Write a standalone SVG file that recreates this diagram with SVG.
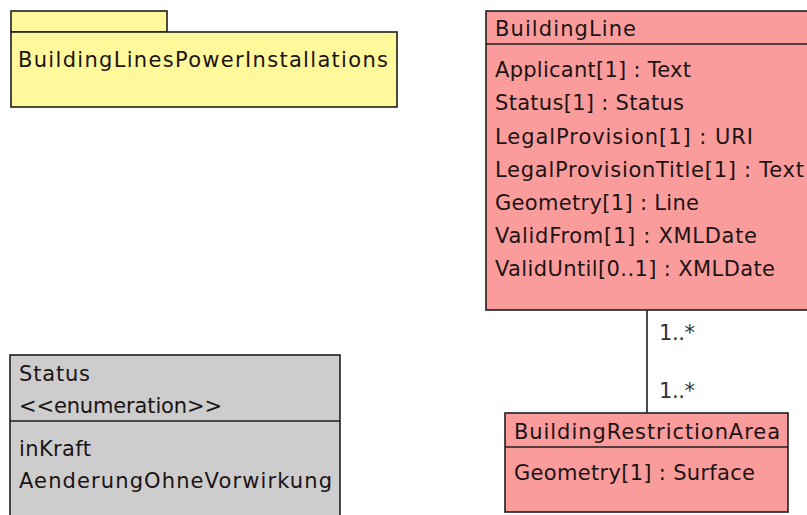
<svg xmlns="http://www.w3.org/2000/svg" width="807" height="515" viewBox="0 0 807 515">
  <style>
    .box { stroke: #1e1e1e; stroke-width: 1.6; }
    .pkg { fill: #fff99c; }
    .cls { fill: #fb9c9c; }
    .enum { fill: #cdcdcd; }
    .sep { stroke: #1e1e1e; stroke-width: 1.6; fill: none; }
    text { font-family: "DejaVu Sans", "Liberation Sans", sans-serif; font-size: 21px; fill: #1c1414; }
    .mult { fill: #333333; }
    .edge { stroke: #1e1e1e; stroke-width: 1.6; fill: none; }
  </style>
  <rect width="807" height="515" fill="#ffffff"/>

  <!-- package -->
  <g id="BuildingLinesPowerInstallations">
    <rect class="box pkg" x="11" y="11" width="156" height="21"/>
    <rect class="box pkg" x="11" y="32" width="386" height="75"/>
    <text x="18" y="67" textLength="370">BuildingLinesPowerInstallations</text>
  </g>

  <!-- class BuildingLine -->
  <g id="BuildingLine">
    <rect class="box cls" x="486" y="11" width="340" height="299"/>
    <line class="sep" x1="486" y1="44" x2="826" y2="44"/>
    <text x="495" y="36" textLength="141">BuildingLine</text>
    <text x="495" y="77" textLength="196">Applicant[1] : Text</text>
    <text x="495" y="110" textLength="189">Status[1] : Status</text>
    <text x="495" y="144" textLength="258">LegalProvision[1] : URI</text>
    <text x="495" y="177" textLength="309">LegalProvisionTitle[1] : Text</text>
    <text x="495" y="210" textLength="204">Geometry[1] : Line</text>
    <text x="495" y="243" textLength="262">ValidFrom[1] : XMLDate</text>
    <text x="495" y="276" textLength="280">ValidUntil[0..1] : XMLDate</text>
  </g>

  <!-- enumeration Status -->
  <g id="Status">
    <rect class="box enum" x="10" y="355" width="330" height="175"/>
    <line class="sep" x1="10" y1="421" x2="340" y2="421"/>
    <text x="19" y="381" textLength="71">Status</text>
    <text x="19" y="413" textLength="203">&lt;&lt;enumeration&gt;&gt;</text>
    <text x="19" y="456" textLength="72">inKraft</text>
    <text x="19" y="488" textLength="313">AenderungOhneVorwirkung</text>
  </g>

  <!-- class BuildingRestrictionArea -->
  <g id="BuildingRestrictionArea">
    <rect class="box cls" x="505" y="413" width="283" height="99"/>
    <line class="sep" x1="505" y1="447" x2="788" y2="447"/>
    <text x="514" y="439" textLength="266">BuildingRestrictionArea</text>
    <text x="514" y="480" textLength="241">Geometry[1] : Surface</text>
  </g>

  <!-- associations -->
  <g id="connectors">
    <line class="edge" x1="647" y1="310" x2="647" y2="413"/>
    <text class="mult" x="659" y="340" textLength="36">1..*</text>
    <text class="mult" x="659" y="398" textLength="36">1..*</text>
  </g>
</svg>
